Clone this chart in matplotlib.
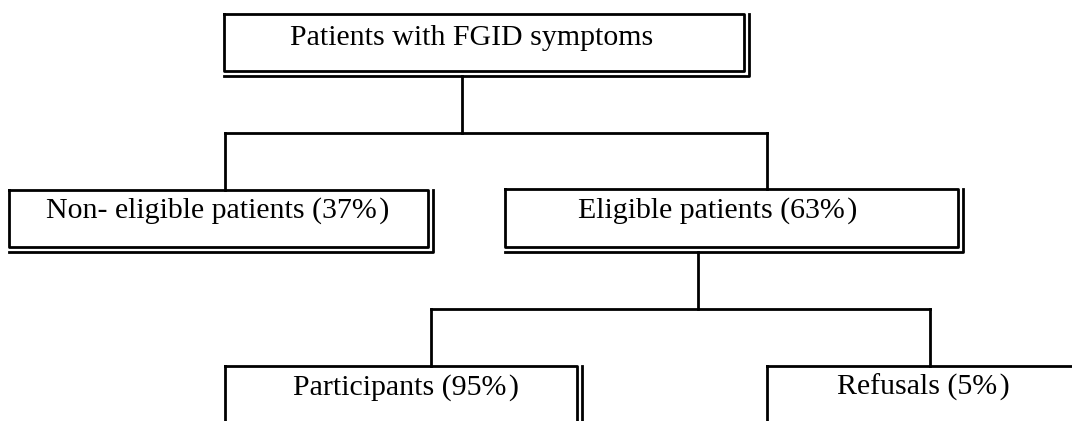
import matplotlib
matplotlib.use('Agg')
import matplotlib.pyplot as plt

# texto dos nos do fluxograma
labels = ['Patients with FGID symptoms', 'Non- eligible patients', 'Eligible patients',
          'Participants', 'Refusals']
percents = [None, 37, 63, 95, 5]

# caixas em pixels: (esquerda, topo, direita, baixo)
boxes = [(224, 14, 744, 71), (9, 190, 428, 247), (505, 189, 958, 247),
         (225, 366, 577, 430), (767, 366, 1080, 430)]
# centro x e linha de base do texto
text_pos = [(472, 45), (218, 218), (718, 218), (406, 395), (923, 395)]

W, H = 1072, 421
fig = plt.figure(figsize=(W / 100, H / 100), dpi=100)
ax = fig.add_axes([0, 0, 1, 1])
ax.set_xlim(0, W)
ax.set_ylim(H, 0)
ax.axis('off')

lw = 2.0
gap = 5


def linha(xs, ys):
    ax.plot(xs, ys, color='black', lw=lw, solid_capstyle='projecting')


def caixa(x0, y0, x1, y1):
    # caixa com sombra de linha dupla em baixo e na direita
    linha([x0, x1, x1, x0, x0], [y0, y0, y1, y1, y0])
    linha([x0, x1 + gap, x1 + gap], [y1 + gap, y1 + gap, y0])


for (x0, y0, x1, y1) in boxes:
    caixa(x0, y0, x1, y1)

for i in range(len(labels)):
    txt = labels[i]
    if percents[i] is not None:
        txt = txt + ' (%d%%\u200a)' % percents[i]
    ax.text(text_pos[i][0], text_pos[i][1], txt, ha='center', va='baseline',
            fontsize=21.5, family='Liberation Serif', color='black')

# conectores
linha([462, 462], [76, 133])
linha([225, 767], [133, 133])
linha([225, 225], [133, 190])
linha([767, 767], [133, 189])
linha([698, 698], [252, 309])
linha([431, 930], [309, 309])
linha([431, 431], [309, 366])
linha([930, 930], [309, 366])

plt.savefig('out.png', dpi=100)
